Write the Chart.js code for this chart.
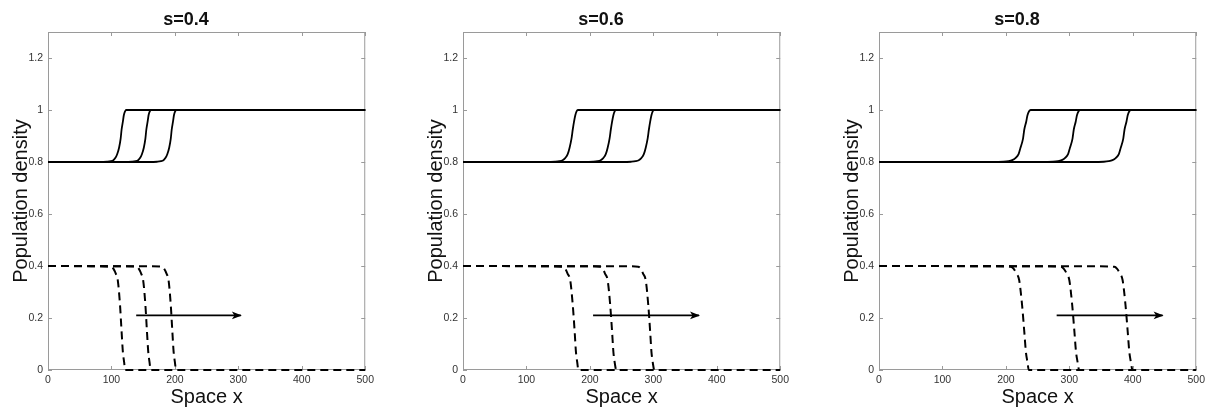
<!DOCTYPE html>
<html><head><meta charset="utf-8">
<script src="https://cdn.jsdelivr.net/npm/chart.js@4.4.1/dist/chart.umd.min.js"></script>
<style>
html,body{margin:0;padding:0;background:#fff;width:1209px;height:408px;overflow:hidden;}
canvas{position:absolute;top:0;}
</style></head><body>
<canvas id="c1" width="378" height="408" style="left:0px"></canvas>
<canvas id="c2" width="378" height="408" style="left:415px"></canvas>
<canvas id="c3" width="378" height="408" style="left:831px"></canvas>
<script>
// ---- data ----
const panelTitles = ['s=0.4', 's=0.6', 's=0.8'];
const xTicks = [0, 100, 200, 300, 400, 500];
const yTicks = [0, 0.2, 0.4, 0.6, 0.8, 1, 1.2];
const xLabel = 'Space x';
const yLabel = 'Population density';

// solid (rising) fronts: density levels along each front
const solidY = [0.8, 0.8, 0.801, 0.803, 0.807, 0.815, 0.83, 0.855, 0.89, 0.925, 0.955, 0.98, 0.995, 1, 1];
// s=0.4
const s04SolidA = [0, 80, 93, 99, 103, 106, 109, 112, 114.5, 116, 118, 119.5, 121.5, 123, 500];
const s04SolidB = [0, 119, 132, 138, 142, 145, 148, 151, 153.5, 155, 157, 158.5, 160.5, 162, 500];
const s04SolidC = [0, 159, 172, 178, 182, 185, 188, 191, 193.5, 195, 197, 198.5, 200.5, 202, 500];
// s=0.6
const s06SolidA = [0, 130, 145, 152, 157, 161, 165, 168, 171, 173, 175, 177, 179, 181, 500];
const s06SolidB = [0, 190, 205, 212, 217, 221, 225, 228, 231, 233, 235, 237, 239, 241, 500];
const s06SolidC = [0, 250, 265, 272, 277, 281, 285, 288, 291, 293, 295, 297, 299, 301, 500];
// s=0.8
const s08SolidA = [0, 178, 196, 204, 210, 215, 220, 223, 227, 229, 232, 234, 236.5, 239, 500];
const s08SolidB = [0, 256, 274, 282, 288, 293, 298, 301, 305, 307, 310, 312, 314.5, 317, 500];
const s08SolidC = [0, 336, 354, 362, 368, 373, 378, 381, 385, 387, 390, 392, 394.5, 397, 500];

// dashed (falling) fronts
const dashedLeadY = [0.4, 0.399, 0.397, 0.39, 0.37, 0.345, 0.25, 0.147, 0.07, 0.03, 0, 0];
const dashedY = [0.4, 0.399, 0.397, 0.39, 0.37, 0.345, 0.25, 0.147, 0.07, 0.03, 0];
// s=0.4
const s04DashA = [0, 80, 100, 103, 107, 110, 113.5, 116, 118, 120, 121.5, 500];
const s04DashB = [0, 120, 140, 143, 147, 150, 153.5, 156, 158, 160, 161.5];
const s04DashC = [0, 160, 180, 183, 187, 190, 193.5, 196, 198, 200, 201.5];
// s=0.6
const s06DashA = [0, 134, 157, 161, 165, 169, 173, 176, 178, 180, 182, 500];
const s06DashB = [0, 193, 216, 220, 224, 228, 232, 235, 237, 239, 241];
const s06DashC = [0, 253, 276, 280, 284, 288, 292, 295, 297, 299, 301];
// s=0.8
const s08DashA = [0, 182, 208, 212, 217, 221, 225.5, 229, 231.5, 234, 236, 500];
const s08DashB = [0, 261, 287, 291, 296, 300, 304.5, 308, 310.5, 313, 315];
const s08DashC = [0, 345, 371, 375, 380, 384, 388.5, 392, 394.5, 397, 399];

// arrows (direction of travel)
const s04ArrowX = [139, 304];
const s06ArrowX = [205, 372];
const s08ArrowX = [280, 447];
const arrowY = [0.21, 0.21];

// ---- build ----
Chart.defaults.font.family = "'Liberation Sans', Arial, Helvetica, sans-serif";
Chart.defaults.color = '#333';

function pts(xs, ys) { return xs.map((x, i) => ({ x: x, y: ys[i] })); }
function solid(xs) {
  return { data: pts(xs, solidY), borderColor: '#000', borderWidth: 1.8, pointRadius: 0,
           cubicInterpolationMode: 'monotone', fill: false, clip: 4 };
}
function dashed(xs, ys) {
  return { data: pts(xs, ys), borderColor: '#000', borderWidth: 2, borderDash: [8, 5], pointRadius: 0,
           cubicInterpolationMode: 'monotone', fill: false, clip: 4 };
}
function arrow(xs) {
  return { data: pts(xs, arrowY), borderColor: '#000', borderWidth: 1.8, pointRadius: 0, fill: false,
           isArrow: true, tension: 0, clip: 4 };
}

const boxPlugin = {
  id: 'box',
  beforeDatasetsDraw(chart) {
    const { ctx, chartArea: a, scales } = chart;
    ctx.save();
    ctx.strokeStyle = '#9a9a9a';
    ctx.lineWidth = 1;
    ctx.strokeRect(a.left + 0.5, a.top + 0.5, a.right - a.left - 1, a.bottom - a.top - 1);
    ctx.beginPath();
    const tl = 4;
    scales.x.ticks.forEach(t => {
      const p = Math.round(scales.x.getPixelForValue(t.value)) + 0.5;
      ctx.moveTo(p, a.bottom); ctx.lineTo(p, a.bottom - tl);
      ctx.moveTo(p, a.top); ctx.lineTo(p, a.top + tl);
    });
    scales.y.ticks.forEach(t => {
      const p = Math.round(scales.y.getPixelForValue(t.value)) + 0.5;
      ctx.moveTo(a.left, p); ctx.lineTo(a.left + tl, p);
      ctx.moveTo(a.right, p); ctx.lineTo(a.right - tl, p);
    });
    ctx.stroke();
    ctx.restore();
  },
  afterDatasetsDraw(chart) {
    const { ctx } = chart;
    chart.data.datasets.forEach((ds, i) => {
      if (!ds.isArrow) return;
      const els = chart.getDatasetMeta(i).data;
      const p0 = els[els.length - 2], p1 = els[els.length - 1];
      const ang = Math.atan2(p1.y - p0.y, p1.x - p0.x);
      ctx.save();
      ctx.translate(p1.x, p1.y);
      ctx.rotate(ang);
      ctx.fillStyle = '#000';
      ctx.beginPath();
      ctx.moveTo(1, 0);
      ctx.lineTo(-9, -3.8);
      ctx.lineTo(-6.5, 0);
      ctx.lineTo(-9, 3.8);
      ctx.closePath();
      ctx.fill();
      ctx.restore();
    });
  }
};

function makeChart(id, title, datasets) {
  return new Chart(document.getElementById(id), {
    type: 'line',
    data: { datasets: datasets },
    plugins: [boxPlugin],
    options: {
      responsive: false, animation: false, devicePixelRatio: 1,
      layout: { padding: { left: 0, right: 6, top: 0, bottom: 0 } },
      plugins: {
        legend: { display: false }, tooltip: { enabled: false },
        title: { display: true, text: title, color: '#111',
                 font: { size: 18, weight: 'bold', lineHeight: 1.2 }, padding: { top: 9, bottom: 1.4 } }
      },
      scales: {
        x: {
          type: 'linear', min: 0, max: 500,
          grid: { display: false, drawTicks: false }, border: { display: false },
          afterBuildTicks: s => { s.ticks = xTicks.map(v => ({ value: v })); },
          afterFit: s => { s.height = 38; },
          ticks: { font: { size: 10.5 }, color: '#333', padding: 4, maxRotation: 0, autoSkip: false,
                   callback: v => String(v) },
          title: { display: true, text: xLabel, color: '#111', font: { size: 20, lineHeight: 1 },
                   padding: { top: 0, bottom: 1 } }
        },
        y: {
          type: 'linear', min: 0, max: 1.3,
          grid: { display: false, drawTicks: false }, border: { display: false },
          afterBuildTicks: s => { s.ticks = yTicks.map(v => ({ value: v })); },
          afterFit: s => { s.width = 48; },
          ticks: { font: { size: 10.5 }, color: '#333', padding: 5, autoSkip: false,
                   callback: v => String(+Number(v).toFixed(1)) },
          title: { display: true, text: yLabel, color: '#111', font: { size: 20, lineHeight: 1 },
                   padding: { top: 11, bottom: 0 } }
        }
      }
    }
  });
}

makeChart('c1', panelTitles[0], [
  solid(s04SolidA), solid(s04SolidB), solid(s04SolidC),
  dashed(s04DashA, dashedLeadY), dashed(s04DashB, dashedY), dashed(s04DashC, dashedY),
  arrow(s04ArrowX)
]);
makeChart('c2', panelTitles[1], [
  solid(s06SolidA), solid(s06SolidB), solid(s06SolidC),
  dashed(s06DashA, dashedLeadY), dashed(s06DashB, dashedY), dashed(s06DashC, dashedY),
  arrow(s06ArrowX)
]);
makeChart('c3', panelTitles[2], [
  solid(s08SolidA), solid(s08SolidB), solid(s08SolidC),
  dashed(s08DashA, dashedLeadY), dashed(s08DashB, dashedY), dashed(s08DashC, dashedY),
  arrow(s08ArrowX)
]);
</script>
</body></html>
